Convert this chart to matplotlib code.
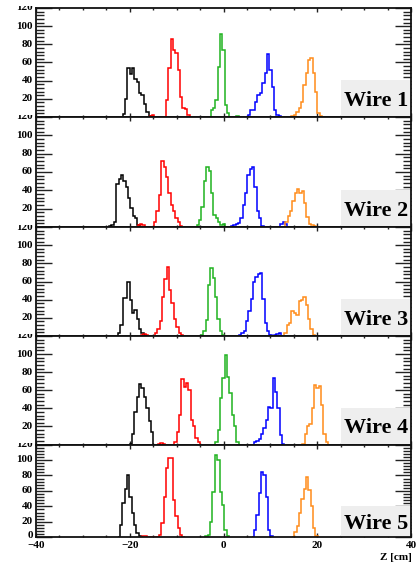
import matplotlib
matplotlib.use('Agg')
import matplotlib.pyplot as plt
import numpy as np
from matplotlib.transforms import Bbox, offset_copy
from matplotlib.ticker import MultipleLocator
from matplotlib.patches import Rectangle

BIN = 0.5
wire_labels = ['Wire 1', 'Wire 2', 'Wire 3', 'Wire 4', 'Wire 5']
colors = ['#000000', '#ff0000', '#1fb31f', '#0000ff', '#ff8c1a']
y_ticks = [0, 20, 40, 60, 80, 100, 120]
x_ticks = [-40, -20, 0, 20, 40]
x_tick_labels = ['\u221240', '\u221220', '0', '20', '40']
x_title = 'Z [cm]'

# ---- Wire 1 ----
w1_starts = [-21.5, -15.75, -2.75, 5.25, 14.5]
w1_k = [3, 20, 54, 47, 54, 42, 38, 26, 24, 14, 5, 1]
w1_r = [1, 2, 0, 0, 0, 0, 0, 19, 54, 86, 74, 70, 52, 22, 10, 9, 2]
w1_g = [8, 10, 19, 55, 91, 74, 13, 4, 0, 0, 0, 1]
w1_b = [2, 8, 8, 17, 24, 26, 37, 48, 69, 52, 33, 8, 2, 1]
w1_o = [1, 2, 6, 10, 17, 35, 48, 63, 65, 48, 28, 4, 1]

# ---- Wire 2 ----
w2_starts = [-24.4, -18.3, -5.7, 1.6, 13.2]
w2_k = [1, 2, 6, 47, 52, 57, 50, 44, 32, 21, 12, 10, 2]
w2_r = [2, 3, 2, 0, 0, 0, 0, 6, 17, 35, 72, 65, 55, 37, 24, 17, 10, 6, 1]
w2_g = [2, 8, 22, 50, 65, 61, 37, 13, 10, 6, 2, 3]
w2_b = [1, 2, 3, 4, 10, 24, 37, 57, 63, 65, 44, 17, 10, 1, 0, 0, 0, 0, 0, 0, 0, 3, 6, 3]
w2_o = [5, 12, 17, 28, 37, 41, 37, 39, 26, 11, 3, 2, 1]

# ---- Wire 3 ----
w3_starts = [-22.5, -17.6, -4.8, 3.3, 13.0]
w3_k = [3, 12, 42, 42, 59, 40, 25, 29, 19, 8, 3, 1]
w3_r = [1, 2, 1, 0, 0, 0, 3, 8, 16, 43, 63, 76, 51, 36, 19, 10, 3, 1]
w3_g = [1, 5, 18, 56, 75, 64, 43, 19, 5, 1]
w3_b = [1, 3, 5, 16, 27, 41, 60, 65, 68, 69, 41, 14, 5, 1, 0, 1, 2, 3]
w3_o = [3, 12, 14, 27, 25, 23, 38, 40, 43, 34, 19, 8, 1]

# ---- Wire 4 ----
w4_starts = [-20.0, -14.0, -1.75, 6.5, 16.8]
w4_k = [1, 12, 36, 53, 67, 63, 53, 40, 26, 14]
w4_r = [1, 2, 1, 0, 0, 0, 0, 3, 14, 33, 72, 64, 68, 60, 27, 20, 7, 3]
w4_g = [3, 16, 51, 73, 99, 75, 57, 33, 20, 3]
w4_b = [3, 4, 6, 12, 18, 27, 42, 40, 74, 58, 40, 11, 1]
w4_o = [1, 12, 20, 23, 40, 66, 62, 65, 44, 12, 3]

# ---- Wire 5 ----
w5_starts = [-22.6, -17.8, -3.85, 6.0, 14.6]
w5_k = [1, 16, 44, 63, 80, 52, 32, 16, 5, 2]
w5_r = [1, 2, 2, 1, 0, 0, 0, 0, 3, 18, 52, 89, 102, 102, 48, 27, 12, 3, 1]
w5_g = [2, 3, 20, 59, 107, 100, 59, 42, 9, 2]
w5_b = [1, 9, 29, 57, 85, 80, 52, 9, 2]
w5_o = [1, 7, 14, 31, 50, 63, 78, 61, 40, 12, 2]

wire_starts = [w1_starts, w2_starts, w3_starts, w4_starts, w5_starts]
wire_counts = [[w1_k, w1_r, w1_g, w1_b, w1_o],
               [w2_k, w2_r, w2_g, w2_b, w2_o],
               [w3_k, w3_r, w3_g, w3_b, w3_o],
               [w4_k, w4_r, w4_g, w4_b, w4_o],
               [w5_k, w5_r, w5_g, w5_b, w5_o]]

W, H = 417, 567
fig = plt.figure(figsize=(W / 100, H / 100), dpi=100)
fig.patch.set_facecolor('white')

serif = ['Liberation Serif', 'DejaVu Serif']
LEFT, RIGHT = 36.0, 411.0
TOPS = [8.0, 117.0, 227.0, 336.0, 444.5]
BOTS = [117.0, 227.0, 336.0, 444.5, 537.3]

for i in range(5):
    T, B = TOPS[i], BOTS[i]
    ax = fig.add_axes([LEFT / W, 1 - B / H, (RIGHT - LEFT) / W, (B - T) / H])
    ax.set_xlim(-40, 40)
    ax.set_ylim(0, 120)
    for c, start, counts in zip(colors, wire_starts[i], wire_counts[i]):
        counts = np.asarray(counts, dtype=float)
        edges = start + BIN * np.arange(len(counts) + 1)
        ax.stairs(counts, edges, color=c, lw=1.1, baseline=0, zorder=2)

    ax.xaxis.set_major_locator(MultipleLocator(20))
    ax.xaxis.set_minor_locator(MultipleLocator(5))
    ax.yaxis.set_major_locator(MultipleLocator(20))
    ax.yaxis.set_minor_locator(MultipleLocator(4))
    ax.tick_params(axis='both', which='both', direction='in',
                   labelbottom=False, labelleft=False, top=True, right=True,
                   width=1.0, color='#222222')
    ax.tick_params(axis='y', which='major', length=11.2)
    ax.tick_params(axis='y', which='minor', length=5.8)
    ax.tick_params(axis='x', which='major', length=2.9)
    ax.tick_params(axis='x', which='minor', length=1.3)
    for s in ax.spines.values():
        s.set_linewidth(1.3)
        s.set_color('#111111')

    # label box
    bx0 = (341.0 - LEFT) / (RIGHT - LEFT)
    ax.add_patch(Rectangle((bx0, 0.0), 1.0 - bx0, 0.34, transform=ax.transAxes,
                           facecolor='#eeeeee', edgecolor='none', zorder=2.2))
    tr = offset_copy(ax.transAxes, fig=fig, x=0, y=-7.3, units='dots')
    ax.text((bx0 + 1.0) / 2, 0.17, wire_labels[i], transform=tr,
            ha='center', va='baseline', fontsize=16, fontweight='bold',
            family=serif, color='black', zorder=3)

    # y tick labels, clipped like the stacked pads (the 0 of upper pads is hidden)
    clip = Bbox.from_extents(0, 0, W, H - T + 2.0)
    for v in y_ticks:
        if v == 0 and i < 4:
            continue
        yp = B - (B - T) * v / 120.0
        if v == 0:
            yp -= 1.5
        t = fig.text(33.0 / W, 1 - yp / H, str(v), ha='right', va='center',
                     fontsize=8, fontweight='bold', family=serif, color='black')
        t.set_clip_box(clip)
        t.set_clip_on(True)

# x tick labels under bottom panel
for v, lab in zip(x_ticks, x_tick_labels):
    xp = LEFT + (v + 40) * (RIGHT - LEFT) / 80.0
    fig.text(xp / W, 1 - 545.3 / H, lab, ha='center', va='center',
             fontsize=8, fontweight='bold', family=serif, color='black')

fig.text(411.5 / W, 1 - 557.0 / H, x_title, ha='right', va='center',
         fontsize=8, fontweight='bold', family=serif, color='black')

fig.savefig('out.png', dpi=100)
